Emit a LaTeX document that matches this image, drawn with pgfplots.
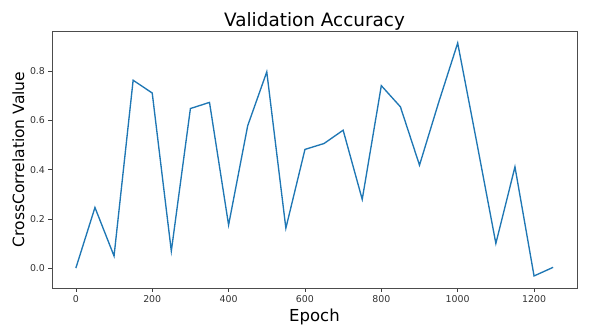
\documentclass[border=0pt]{standalone}
\usepackage{fontspec}
\setmainfont{DejaVu Sans}
\usepackage{pgfplots}
\pgfplotsset{compat=1.18}
\definecolor{mplblue}{HTML}{1F77B4}
\begin{document}
\begin{tikzpicture}[x=1pt,y=1pt]
\path[use as bounding box] (0,0) rectangle (591,330);
\begin{axis}[
  at={(52pt,42pt)}, anchor=south west,
  width=525pt, height=257pt, scale only axis,
  xmin=-62.5, xmax=1312.5, ymin=-0.081, ymax=0.963,
  xtick={0,200,400,600,800,1000,1200},
  ytick={0,0.2,0.4,0.6,0.8},
  xticklabel style={/pgf/number format/.cd,fixed,set thousands separator={}},
  yticklabel style={/pgf/number format/.cd,fixed,fixed zerofill,precision=1},
  /pgf/number format/assume math mode=true,
  tick label style={font=\fontsize{9.4}{11}\selectfont, color=black!80},
  tick align=outside, major tick length=3.5pt,
  tick style={black!75, line width=0.6pt},
  xtick pos=left, ytick pos=left,
  axis line style={black!70, line width=0.7pt},
  title={Validation Accuracy},
  title style={font=\fontsize{18.4}{22}\selectfont, at={([yshift=-1.5pt]axis description cs:0.5,1)}, anchor=base},
  xlabel={Epoch},
  xlabel style={font=\fontsize{16.5}{20}\selectfont, at={([yshift=-33pt]axis description cs:0.5,0)}, anchor=base},
  ylabel={CrossCorrelation Value},
  ylabel style={font=\fontsize{15.5}{19}\selectfont, at={([xshift=-28pt]axis description cs:0,0.5)}, anchor=base},
]
\addplot[mplblue, line width=1.35pt, mark=none] coordinates {
(0,0.000) (50,0.246) (100,0.049) (150,0.763) (200,0.711) (250,0.069)
(300,0.648) (350,0.673) (400,0.175) (450,0.578) (500,0.797) (550,0.162)
(600,0.482) (650,0.506) (700,0.560) (750,0.279) (800,0.741) (850,0.655)
(900,0.418) (950,0.672) (1000,0.914) (1050,0.510) (1100,0.100) (1150,0.411)
(1200,-0.032) (1250,0.003)
};
\end{axis}
\end{tikzpicture}
\end{document}
